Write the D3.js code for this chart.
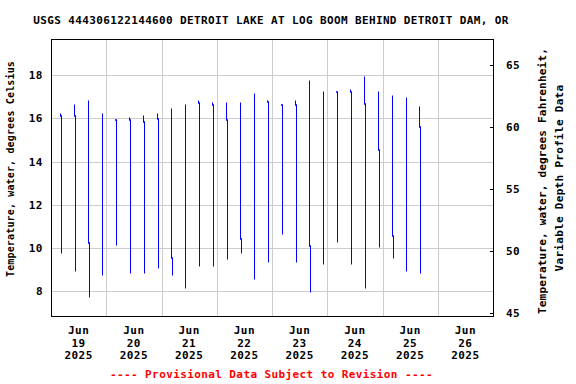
<!DOCTYPE html>
<html>
<head>
<meta charset="utf-8">
<script src="https://cdn.jsdelivr.net/npm/d3@7"></script>
<style>
  body { margin: 0; background: #fff; }
  text { font-family: "DejaVu Sans Mono", "Liberation Mono", monospace; font-weight: bold; }
</style>
</head>
<body>
<script>
// ---------------- data ----------------
const titleText = "USGS 444306122144600 DETROIT LAKE AT LOG BOOM BEHIND DETROIT DAM, OR";
const footerText = "---- Provisional Data Subject to Revision ----";
const leftAxisTitle = "Temperature, water, degrees Celsius";
const rightAxisTitle = ["Temperature, water, degrees Fahrenheit,", "Variable Depth Profile Data"];

const xDomain = ["2025-06-19T00:00:00Z", "2025-06-27T00:00:00Z"];
const dayLabels = ["2025-06-19", "2025-06-20", "2025-06-21", "2025-06-22", "2025-06-23", "2025-06-24", "2025-06-25", "2025-06-26"];
const gridDays = ["2025-06-20", "2025-06-21", "2025-06-22", "2025-06-23", "2025-06-24", "2025-06-25", "2025-06-26"];

const yDomainC = [6.857, 19.667];
const yTicksC = [8, 10, 12, 14, 16, 18];
const yDomainF = [44.73, 67.07];
const yTicksF = [45, 50, 55, 60, 65];

// one vertical profile every 6 hours
const profileStarts = [
  "2025-06-19T04:00:00Z", "2025-06-19T10:00:00Z", "2025-06-19T16:00:00Z", "2025-06-19T22:00:00Z",
  "2025-06-20T04:00:00Z", "2025-06-20T10:00:00Z", "2025-06-20T16:00:00Z", "2025-06-20T22:00:00Z",
  "2025-06-21T04:00:00Z", "2025-06-21T10:00:00Z", "2025-06-21T16:00:00Z", "2025-06-21T22:00:00Z",
  "2025-06-22T04:00:00Z", "2025-06-22T10:00:00Z", "2025-06-22T16:00:00Z", "2025-06-22T22:00:00Z",
  "2025-06-23T04:00:00Z", "2025-06-23T10:00:00Z", "2025-06-23T16:00:00Z", "2025-06-23T22:00:00Z",
  "2025-06-24T04:00:00Z", "2025-06-24T10:00:00Z", "2025-06-24T16:00:00Z", "2025-06-24T22:00:00Z",
  "2025-06-25T04:00:00Z", "2025-06-25T10:00:00Z", "2025-06-25T16:00:00Z"
];
// temperature at the surface (first reading)
const topTemps = [16.21, 16.63, 16.81, 16.21, 15.93, 16.02, 16.12, 16.21, 16.44, 16.63, 16.81, 16.72, 16.72, 16.72,
  17.14, 16.81, 16.63, 16.81, 17.74, 17.23, 17.23, 17.31, 17.92, 17.23, 17.04, 16.95, 16.53];
// temperature where the later readings begin (null = no later readings)
const stepTemps = [16.10, 16.12, 10.21, null, 15.93, 15.92, 15.82, 15.96, 9.54, null, 16.72, 16.60, 15.90, 10.42,
  null, 16.77, 16.60, 16.60, 10.10, null, 17.21, 17.21, 16.67, 14.54, 10.56, null, 15.61];
// temperature at the deepest reading
const bottomTemps = [9.79, 8.96, 7.75, 8.77, 10.16, 8.86, 8.86, 9.08, 8.77, 8.17, 9.19, 9.19, 9.47, 9.79,
  8.59, 9.37, 10.67, 9.37, 7.98, 9.28, 10.30, 9.28, 8.17, 10.07, 9.56, 8.96, 8.86];
const laterReadingMinutes = 26;

// ---------------- layout ----------------
const W = 576, H = 384;
const L = 51, R = 493, T = 39, B = 316;

const svg = d3.select("body").append("svg").attr("width", W).attr("height", H);

const x = d3.scaleUtc().domain(xDomain.map(d => new Date(d))).range([L, R]);
const y = d3.scaleLinear().domain(yDomainC).range([B, T]);
const yF = d3.scaleLinear().domain(yDomainF).range([B, T]);
const px = v => Math.round(v) + 0.5;

// grid
const grid = svg.append("g").attr("stroke", "#cccccc").attr("stroke-width", 1);
grid.selectAll("line.h").data(yTicksC).join("line")
  .attr("x1", L).attr("x2", R).attr("y1", d => px(y(d))).attr("y2", d => px(y(d)));
grid.selectAll("line.v").data(gridDays).join("line")
  .attr("x1", d => px(x(new Date(d + "T00:00:00Z")))).attr("x2", d => px(x(new Date(d + "T00:00:00Z"))))
  .attr("y1", T).attr("y2", B);

// profiles -> consecutive reading segments
const profiles = profileStarts.map((s, i) => {
  const t0 = new Date(s);
  const t1 = new Date(t0.getTime() + laterReadingMinutes * 60000);
  if (stepTemps[i] === null) return [[t0, topTemps[i]], [t0, bottomTemps[i]]];
  return [[t0, topTemps[i]], [t0, stepTemps[i]], [t1, stepTemps[i]], [t1, bottomTemps[i]]];
});
const segments = profiles.flatMap(p => d3.pairs(p));
svg.append("g").attr("stroke", "#0000ff").attr("stroke-width", 1).attr("stroke-linecap", "square")
  .selectAll("line").data(segments).join("line")
  .attr("x1", d => px(x(d[0][0]))).attr("y1", d => Math.round(y(d[0][1])))
  .attr("x2", d => px(x(d[1][0]))).attr("y2", d => Math.round(y(d[1][1])));

// frame
svg.append("rect").attr("x", L + 0.5).attr("y", T + 0.5).attr("width", R - L).attr("height", B - T)
  .attr("fill", "none").attr("stroke", "#000").attr("stroke-width", 1);

// left axis labels
svg.append("g").selectAll("text").data(yTicksC).join("text")
  .attr("x", 43).attr("y", d => y(d)).attr("dy", "0.36em").attr("text-anchor", "end")
  .attr("font-size", 11).attr("letter-spacing", 0.5).text(d => d);

// right axis ticks + labels
svg.append("g").attr("stroke", "#000").selectAll("line").data(yTicksF).join("line")
  .attr("x1", R - 3).attr("x2", R).attr("y1", d => px(yF(d))).attr("y2", d => px(yF(d)));
svg.append("g").selectAll("text").data(yTicksF).join("text")
  .attr("x", 506).attr("y", d => yF(d)).attr("dy", "0.36em").attr("text-anchor", "start")
  .attr("font-size", 11).attr("letter-spacing", 0.5).text(d => d);

// bottom labels (noon of each day)
const fmtMon = d3.utcFormat("%b"), fmtDay = d3.utcFormat("%-d"), fmtYr = d3.utcFormat("%Y");
const xl = svg.append("g").selectAll("text").data(dayLabels).join("text")
  .attr("text-anchor", "middle").attr("font-size", 11).attr("letter-spacing", 0.5);
xl.each(function(d) {
  const dt = new Date(d + "T12:00:00Z");
  const t = d3.select(this);
  const cx = x(dt);
  [fmtMon(dt), fmtDay(dt), fmtYr(dt)].forEach((s, k) => {
    t.append("tspan").attr("x", cx).attr("y", 334 + k * 12.65).text(s);
  });
});

// title
svg.append("text").attr("x", 271).attr("y", 24).attr("text-anchor", "middle")
  .attr("font-size", 11).attr("letter-spacing", 0.37).text(titleText);

// footer
svg.append("text").attr("x", 271.5).attr("y", 378).attr("text-anchor", "middle")
  .attr("font-size", 11).attr("letter-spacing", 0.4).attr("fill", "#ff0000").text(footerText);

// left axis title
svg.append("text").attr("transform", "translate(14,169) rotate(-90)").attr("text-anchor", "middle")
  .attr("font-size", 10).attr("letter-spacing", 0.15).text(leftAxisTitle);

// right axis title
svg.append("text").attr("transform", "translate(546,181) rotate(-90)").attr("text-anchor", "middle")
  .attr("font-size", 11).attr("letter-spacing", 0.2).text(rightAxisTitle[0]);
svg.append("text").attr("transform", "translate(563,178) rotate(-90)").attr("text-anchor", "middle")
  .attr("font-size", 11).attr("letter-spacing", 0.3).text(rightAxisTitle[1]);
</script>
</body>
</html>
